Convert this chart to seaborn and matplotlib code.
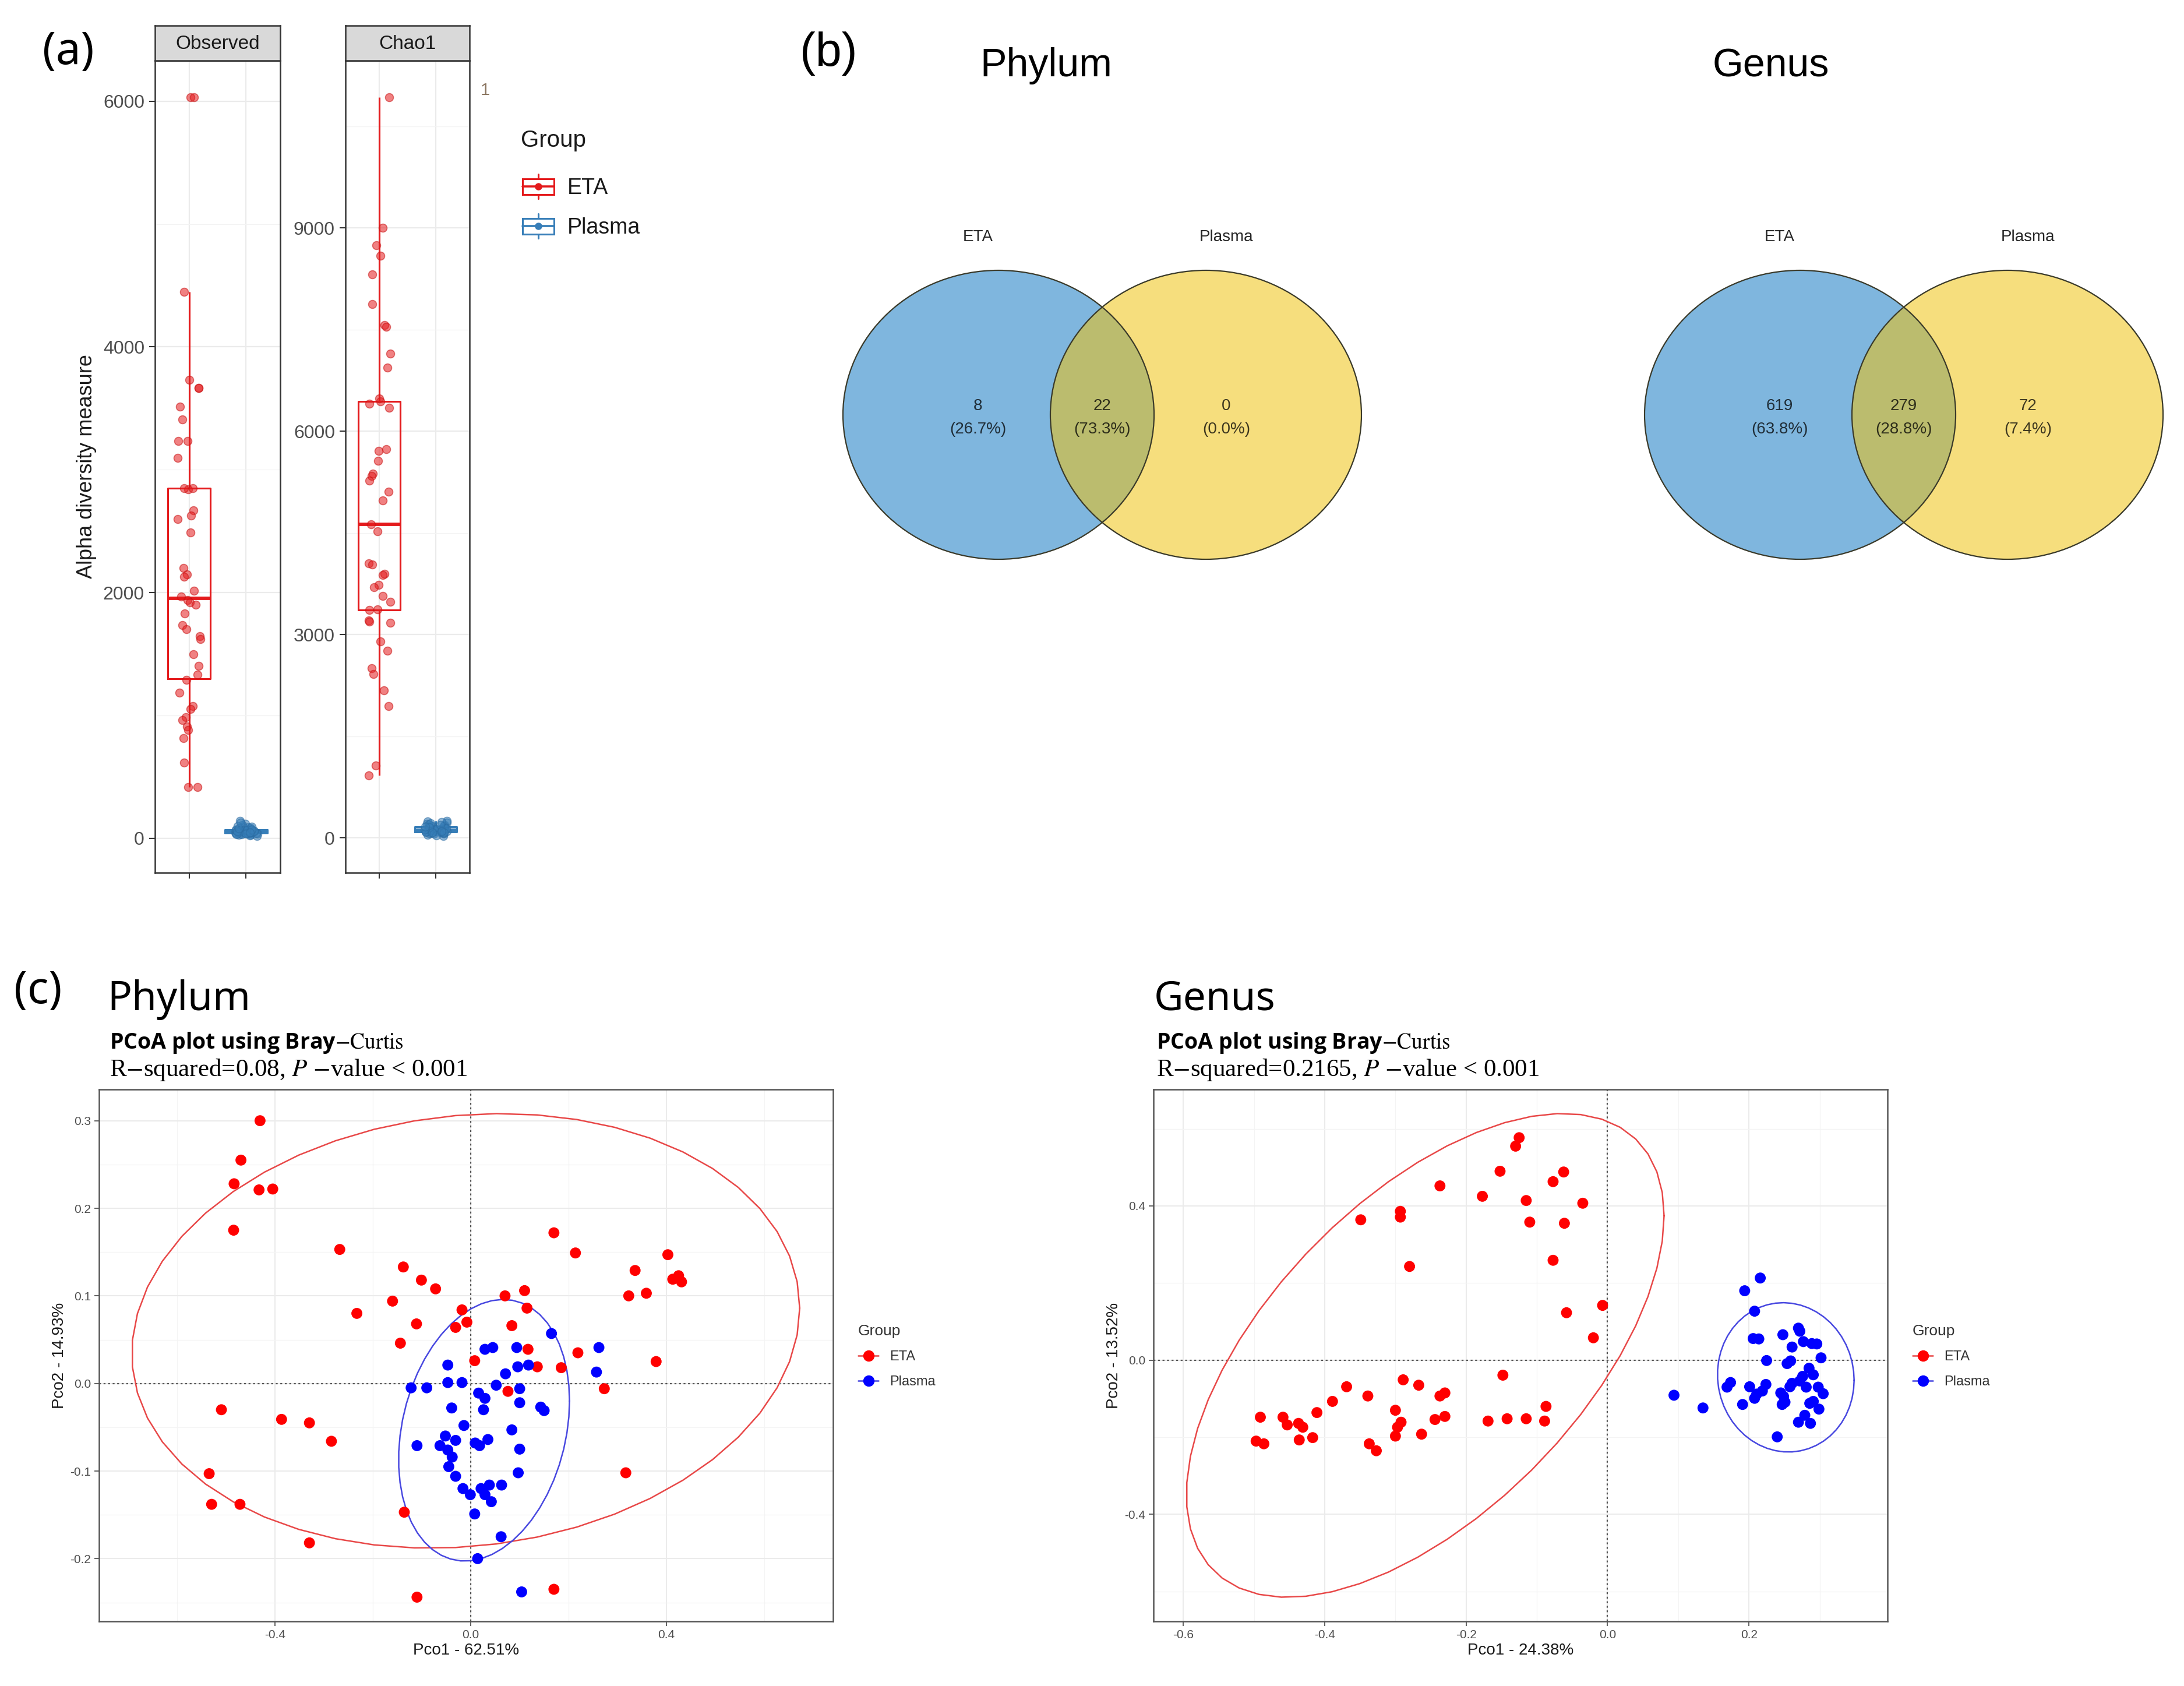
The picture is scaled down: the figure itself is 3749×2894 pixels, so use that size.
import numpy as np
import pandas as pd
import matplotlib
matplotlib.use("Agg")
import matplotlib.pyplot as plt
import seaborn as sns
from matplotlib.patches import Ellipse, Rectangle, Patch
from matplotlib.lines import Line2D
from matplotlib.legend_handler import HandlerBase
from matplotlib.ticker import MultipleLocator, FixedLocator

# ---------------------------------------------------------------- data
groups = ["ETA", "Plasma"]
alpha_metrics = ["Observed", "Chao1"]
alpha_ylabel = "Alpha diversity measure"

observed_eta = [6030, 6030, 4447, 3733, 3663, 3663, 3512, 3410, 3235, 3235, 3097, 2840,
                2848, 2848, 2668, 2627, 2599, 2488, 2198, 2150, 2129, 2014, 1940, 1968,
                1922, 1900, 1829, 1737, 1700, 1645, 1622, 1498, 1401, 1332, 1290, 1184,
                1078, 1050, 986, 960, 908, 880, 816, 618, 415, 415]
observed_plasma = [45, 62, 38, 120, 55, 30, 48, 70, 41, 95, 36, 52, 84, 27, 60, 44, 110,
                   50, 33, 66, 47, 142, 39, 58, 75, 24, 53, 43, 88, 35, 64, 49, 100, 31,
                   56, 42, 78, 20, 51, 68, 46, 128, 40, 59, 92, 37, 54, 72, 46]
chao1_eta = [10925, 9000, 8742, 8592, 8317, 7875, 7567, 7540, 7150, 6942, 6440, 6410,
             6483, 6342, 5733, 5710, 5567, 5375, 5340, 5275, 5108, 4983, 4625, 4525,
             4050, 4030, 3900, 3880, 3733, 3700, 3567, 3483, 3375, 3360, 3208, 3190,
             3170, 2900, 2758, 2500, 2417, 2175, 1942, 1067, 925]
chao1_plasma = [110, 150, 85, 240, 125, 60, 100, 170, 90, 210, 75, 118, 190, 45, 140, 95,
                225, 105, 70, 160, 98, 250, 80, 135, 180, 31, 115, 92, 200, 72, 145, 102,
                215, 65, 130, 88, 175, 40, 112, 155, 97, 235, 83, 138, 195, 78, 120, 165,
                100]

venn_levels = ["Phylum", "Genus"]
venn_phylum_counts = [8, 22, 0]      # ETA only, shared, Plasma only
venn_genus_counts = [619, 279, 72]

pcoa_phylum_eta_x = [-0.431, -0.470, -0.484, -0.433, -0.405, -0.485, -0.268, -0.138, -0.101,
                     -0.072, -0.160, -0.233, -0.111, -0.144, -0.018, -0.031, -0.008, 0.070,
                     0.110, 0.115, 0.084, 0.117, 0.008, 0.136, 0.185, 0.076, 0.170, 0.214,
                     0.403, 0.336, 0.413, 0.425, 0.431, 0.323, 0.359, 0.219, 0.379, 0.273,
                     -0.510, -0.387, -0.330, -0.285, -0.535, -0.530, -0.472, -0.136, -0.330,
                     0.317, -0.110, 0.170]
pcoa_phylum_eta_y = [0.300, 0.255, 0.228, 0.221, 0.222, 0.175, 0.153, 0.133, 0.118, 0.108,
                     0.094, 0.080, 0.068, 0.046, 0.084, 0.064, 0.070, 0.100, 0.106, 0.086,
                     0.066, 0.039, 0.026, 0.019, 0.018, -0.009, 0.172, 0.149, 0.147, 0.129,
                     0.119, 0.123, 0.116, 0.100, 0.103, 0.035, 0.025, -0.006, -0.030, -0.041,
                     -0.045, -0.066, -0.103, -0.138, -0.138, -0.147, -0.182, -0.102, -0.244,
                     -0.235]
pcoa_phylum_plasma_x = [0.165, 0.262, 0.257, 0.029, 0.045, 0.094, -0.047, 0.096, 0.118, 0.071,
                        -0.122, -0.090, -0.047, -0.018, 0.052, 0.100, 0.016, 0.029, 0.100,
                        -0.039, 0.026, 0.143, 0.150, -0.014, 0.084, -0.052, -0.031, 0.035,
                        0.009, 0.018, -0.110, -0.063, -0.047, -0.038, 0.100, -0.045, 0.097,
                        -0.031, -0.016, 0.021, -0.001, 0.029, 0.038, 0.063, 0.042, 0.008,
                        0.062, 0.014, 0.104]
pcoa_phylum_plasma_y = [0.057, 0.041, 0.013, 0.039, 0.041, 0.041, 0.021, 0.019, 0.021, 0.011,
                        -0.005, -0.005, 0.001, 0.001, -0.002, -0.006, -0.011, -0.017, -0.022,
                        -0.028, -0.030, -0.027, -0.031, -0.048, -0.053, -0.060, -0.065,
                        -0.064, -0.068, -0.071, -0.071, -0.071, -0.076, -0.084, -0.075,
                        -0.095, -0.102, -0.106, -0.120, -0.120, -0.127, -0.127, -0.116,
                        -0.116, -0.135, -0.149, -0.175, -0.200, -0.238]

pcoa_genus_eta_x = [-0.125, -0.130, -0.152, -0.062, -0.077, -0.237, -0.177, -0.115, -0.035,
                    -0.293, -0.293, -0.349, -0.110, -0.061, -0.077, -0.280, -0.007, -0.058,
                    -0.020, -0.148, -0.289, -0.267, -0.369, -0.230, -0.237, -0.339, -0.389,
                    -0.087, -0.411, -0.300, -0.491, -0.459, -0.230, -0.244, -0.142, -0.115,
                    -0.169, -0.089, -0.453, -0.437, -0.431, -0.292, -0.297, -0.263, -0.300,
                    -0.417, -0.436, -0.497, -0.486, -0.337, -0.327]
pcoa_genus_eta_y = [0.577, 0.555, 0.490, 0.488, 0.463, 0.452, 0.425, 0.414, 0.407, 0.386,
                    0.371, 0.364, 0.358, 0.355, 0.259, 0.243, 0.142, 0.123, 0.058, -0.039,
                    -0.051, -0.065, -0.069, -0.085, -0.093, -0.093, -0.107, -0.120, -0.136,
                    -0.130, -0.148, -0.148, -0.146, -0.154, -0.152, -0.152, -0.158, -0.158,
                    -0.168, -0.164, -0.174, -0.161, -0.174, -0.192, -0.197, -0.201, -0.207,
                    -0.210, -0.217, -0.217, -0.235]
pcoa_genus_plasma_x = [0.216, 0.194, 0.208, 0.206, 0.214, 0.248, 0.270, 0.272, 0.261, 0.277,
                       0.289, 0.296, 0.225, 0.254, 0.259, 0.302, 0.285, 0.291, 0.276, 0.272,
                       0.281, 0.261, 0.258, 0.174, 0.169, 0.201, 0.224, 0.219, 0.211, 0.208,
                       0.245, 0.249, 0.247, 0.251, 0.298, 0.305, 0.291, 0.286, 0.299, 0.191,
                       0.279, 0.270, 0.287, 0.240, 0.094, 0.135]
pcoa_genus_plasma_y = [0.213, 0.180, 0.127, 0.056, 0.055, 0.066, 0.083, 0.075, 0.034, 0.048,
                       0.043, 0.042, -0.001, -0.009, -0.002, 0.006, -0.021, -0.038, -0.042,
                       -0.054, -0.070, -0.060, -0.069, -0.058, -0.070, -0.069, -0.063,
                       -0.080, -0.088, -0.099, -0.085, -0.094, -0.115, -0.109, -0.070,
                       -0.087, -0.107, -0.112, -0.127, -0.115, -0.143, -0.161, -0.164,
                       -0.199, -0.091, -0.124]

pcoa_phylum_labels = ["Pco1 - 62.51%", "Pco2 - 14.93%"]
pcoa_genus_labels = ["Pco1 - 24.38%", "Pco2 - 13.52%"]
pcoa_phylum_r2 = "0.08"
pcoa_genus_r2 = "0.2165"

# ---------------------------------------------------------------- style
W, H, DPI = 3749, 2894, 100
sns.set_style("white")
plt.rcParams["font.family"] = ["Liberation Sans", "DejaVu Sans"]
plt.rcParams["axes.unicode_minus"] = False
plt.rcParams["mathtext.fontset"] = "stix"

fig = plt.figure(figsize=(W / DPI, H / DPI), dpi=DPI, facecolor="white")


def add_ax(left, top, right, bottom, **kw):
    return fig.add_axes([left / W, 1 - bottom / H, (right - left) / W, (bottom - top) / H], **kw)


# overlay axes in pixel coordinates for free text and venn
ov = fig.add_axes([0, 0, 1, 1])
ov.set_xlim(0, W)
ov.set_ylim(H, 0)
ov.axis("off")
ov.patch.set_visible(False)

# ---------------------------------------------------------------- panel (a)
pal_a = {"ETA": "#E41A1C", "Plasma": "#377EB8"}
edge_a = {"ETA": "#C81010", "Plasma": "#2A6AA0"}
alpha_df = pd.DataFrame({
    "Metric": (["Observed"] * (len(observed_eta) + len(observed_plasma))
               + ["Chao1"] * (len(chao1_eta) + len(chao1_plasma))),
    "Group": (["ETA"] * len(observed_eta) + ["Plasma"] * len(observed_plasma)
              + ["ETA"] * len(chao1_eta) + ["Plasma"] * len(chao1_plasma)),
    "Value": observed_eta + observed_plasma + chao1_eta + chao1_plasma,
})
panel_rects = {"Observed": (266, 104, 481, 1498), "Chao1": (593, 104, 806, 1498)}
major_step = {"Observed": 2000, "Chao1": 3000}
np.random.seed(3)
for m in alpha_metrics:
    l, t, r, b = panel_rects[m]
    ax = add_ax(l, t, r, b)
    d = alpha_df[alpha_df.Metric == m]
    sns.boxplot(data=d, x="Group", y="Value", hue="Group", order=groups, hue_order=groups,
                palette=pal_a, fill=False, width=0.75, linewidth=2.2, showfliers=False,
                showcaps=False, legend=False, ax=ax, medianprops=dict(linewidth=4.2))
    for g in groups:
        sns.stripplot(data=d[d.Group == g], x="Group", y="Value", order=groups,
                      color=pal_a[g], jitter=0.21, size=10, alpha=0.55, linewidth=1.2,
                      edgecolor=edge_a[g], ax=ax, zorder=3)
    vmin, vmax = d.Value.min(), d.Value.max()
    pad = 0.05 * (vmax - vmin)
    ax.set_ylim(vmin - pad, vmax + pad)
    ax.set_xlim(-0.6, 1.6)
    ax.yaxis.set_major_locator(MultipleLocator(major_step[m]))
    ax.yaxis.set_minor_locator(MultipleLocator(major_step[m] / 2))
    ax.set_axisbelow(True)
    ax.grid(which="major", color="#EBEBEB", lw=1.6)
    ax.grid(which="minor", axis="y", color="#F3F3F3", lw=0.9)
    for s in ax.spines.values():
        s.set_color("#333333")
        s.set_linewidth(1.8)
    ax.tick_params(axis="both", which="major", direction="out", length=7, width=1.5,
                   color="#333333", labelsize=23, labelcolor="#4D4D4D", pad=6,
                   left=True, bottom=True)
    ax.tick_params(which="minor", length=0)
    ax.set_xticklabels([])
    ax.set_xlabel("")
    if m == "Observed":
        ax.set_ylabel(alpha_ylabel, fontsize=26, color="#1A1A1A", labelpad=8)
    else:
        ax.set_ylabel("")
    # facet strip
    sax = add_ax(l, 44, r, t)
    sax.set_facecolor("#D9D9D9")
    sax.set_xticks([])
    sax.set_yticks([])
    for s in sax.spines.values():
        s.set_color("#333333")
        s.set_linewidth(1.8)
    sax.text(0.5, 0.47, m, ha="center", va="center", fontsize=24, color="#1A1A1A",
             transform=sax.transAxes)

ov.text(833, 155, "1", ha="center", va="center", fontsize=21, color="#8a7560")


class BoxKeyHandler(HandlerBase):
    def create_artists(self, legend, orig_handle, xdescent, ydescent, width, height,
                       fontsize, trans):
        c = orig_handle.get_edgecolor()
        x0, y0 = -xdescent, -ydescent
        cx, cy = x0 + width / 2, y0 + height / 2
        whisk = Line2D([cx, cx], [y0 - 0.05 * height, y0 + 1.05 * height], color=c, lw=2.2,
                       transform=trans)
        box = Rectangle((x0, y0 + 0.15 * height), width, 0.7 * height, facecolor="white",
                        edgecolor=c, lw=2.2, transform=trans)
        med = Line2D([x0, x0 + width], [cy, cy], color=c, lw=2.6, transform=trans)
        dot = Line2D([cx], [cy], marker="o", color=c, markersize=8, linestyle="none",
                     transform=trans)
        return [whisk, box, med, dot]


ov.text(894, 241, "Group", ha="left", va="center", fontsize=29, color="#1A1A1A")
box_handles = [Patch(edgecolor=pal_a[g], facecolor="white") for g in groups]
leg_a = fig.legend(box_handles, groups, handler_map={h: BoxKeyHandler() for h in box_handles},
                   loc="upper left", bbox_to_anchor=(897 / W, 1 - 301 / H),
                   bbox_transform=fig.transFigure, frameon=False,
                   fontsize=27, handlelength=1.45, handleheight=1.2,
                   handletextpad=0.6, labelspacing=0.75, borderpad=0, borderaxespad=0,
                   labelcolor="#1A1A1A")

# ---------------------------------------------------------------- panel (b) venn
venn_blue, venn_yellow, venn_mix = "#7FB6DE", "#F6DE7D", "#BBBC6E"
venn_geom = {"Phylum": (1714, 2070, 1796), "Genus": (3090, 3446, 3040)}
cy, rx, ry = 712, 267, 248
for lvl, counts in zip(venn_levels, [venn_phylum_counts, venn_genus_counts]):
    c1, c2, tx = venn_geom[lvl]
    e1 = Ellipse((c1, cy), 2 * rx, 2 * ry, facecolor=venn_blue, edgecolor="none", zorder=1)
    e2 = Ellipse((c2, cy), 2 * rx, 2 * ry, facecolor=venn_yellow, edgecolor="none", zorder=1)
    ov.add_patch(e1)
    ov.add_patch(e2)
    e3 = Ellipse((c2, cy), 2 * rx, 2 * ry, facecolor=venn_mix, edgecolor="none", zorder=2)
    ov.add_patch(e3)
    e3.set_clip_path(e1)
    for c in (c1, c2):
        ov.add_patch(Ellipse((c, cy), 2 * rx, 2 * ry, facecolor="none", edgecolor="#3a3a2a",
                             lw=1.6, zorder=3))
    total = sum(counts)
    xs = [c1 - 35, (c1 + c2) / 2, c2 + 35]
    for x, cnt in zip(xs, counts):
        ov.text(x, 697, f"{cnt}", ha="center", va="center", fontsize=20, color="black",
                alpha=0.75, zorder=4)
        ov.text(x, 737, f"({100 * cnt / total:.1f}%)", ha="center", va="center", fontsize=20,
                color="black", alpha=0.75, zorder=4)
    ov.text(c1 - 35, 407, groups[0], ha="center", va="center", fontsize=20, color="#262626")
    ov.text(c2 + 35, 407, groups[1], ha="center", va="center", fontsize=20, color="#262626")
    ov.text(tx, 113, lvl, ha="center", va="center", fontsize=49, color="black")

# ---------------------------------------------------------------- panel (c) PCoA
pal_c = {"ETA": "#FF0000", "Plasma": "#0000FF"}
ell_c = {"ETA": "#E84848", "Plasma": "#4848E0"}


def cov_trob(X, nu=5, maxit=25, tol=0.01):
    n, p = X.shape
    wt = np.ones(n)
    loc = X.mean(axis=0)
    w = np.sqrt(wt)
    for _ in range(maxit):
        w0 = w
        Xc = X - loc
        A = np.sqrt(w / w.sum())[:, None] * Xc
        _, dvals, Vt = np.linalg.svd(A, full_matrices=False)
        wX = Xc @ Vt.T @ np.diag(1 / dvals)
        Q = (wX ** 2).sum(axis=1)
        w = (wt * (nu + p)) / (nu + Q)
        loc = (w[:, None] * X).sum(axis=0) / w.sum()
        if np.all(np.abs(w - w0) < tol):
            break
    sw = np.sqrt(w)[:, None] * Xc
    return loc, sw.T @ sw / wt.sum()


def stat_ellipse(x, y, level=0.95, segments=51):
    X = np.column_stack([x, y])
    center, shape = cov_trob(X)
    dfd = len(x) - 1
    qf = dfd / 2 * ((1 - level) ** (-2 / dfd) - 1)
    radius = np.sqrt(2 * qf)
    ang = np.linspace(0, 2 * np.pi, segments + 1)
    circ = np.column_stack([np.cos(ang), np.sin(ang)])
    U = np.linalg.cholesky(shape).T
    return center + radius * circ @ U


def pcoa_panel(rect, ex, ey, px, py, labels, xmaj, xmin, ymaj, ymin):
    ax = add_ax(*rect)
    df = pd.DataFrame({"x": ex + px, "y": ey + py,
                       "Group": ["ETA"] * len(ex) + ["Plasma"] * len(px)})
    sns.scatterplot(data=df, x="x", y="y", hue="Group", hue_order=groups, palette=pal_c,
                    s=185, linewidth=0, legend=False, ax=ax, zorder=3)
    for g in groups:
        sub = df[df.Group == g]
        ell = stat_ellipse(sub.x.values, sub.y.values)
        ax.plot(ell[:, 0], ell[:, 1], color=ell_c[g], lw=1.8, zorder=2)
    ax.margins(0.05)
    ax.autoscale_view()
    ax.axhline(0, ls=(0, (1.5, 2)), color="#555555", lw=1.6, zorder=1)
    ax.axvline(0, ls=(0, (1.5, 2)), color="#555555", lw=1.6, zorder=1)
    ax.xaxis.set_major_locator(FixedLocator(xmaj))
    ax.xaxis.set_minor_locator(FixedLocator(xmin))
    ax.yaxis.set_major_locator(FixedLocator(ymaj))
    ax.yaxis.set_minor_locator(FixedLocator(ymin))
    ax.xaxis.set_major_formatter(matplotlib.ticker.FormatStrFormatter("%.1f"))
    ax.yaxis.set_major_formatter(matplotlib.ticker.FormatStrFormatter("%.1f"))
    ax.set_axisbelow(True)
    ax.grid(which="major", color="#EBEBEB", lw=1.5)
    ax.grid(which="minor", color="#F4F4F4", lw=0.9)
    for s in ax.spines.values():
        s.set_color("#555555")
        s.set_linewidth(1.8)
    ax.tick_params(which="major", direction="out", length=6, width=1.3, color="#555555",
                   labelsize=15, labelcolor="#4D4D4D", pad=4, left=True, bottom=True)
    ax.tick_params(which="minor", length=0)
    ax.set_xlabel(labels[0], fontsize=20, color="#1A1A1A", labelpad=3)
    ax.set_ylabel(labels[1], fontsize=20, color="#1A1A1A", labelpad=4)
    handles = [(Line2D([], [], color=ell_c[g], lw=1.8),
                Line2D([], [], color=pal_c[g], marker="o", ls="none", markersize=13))
               for g in groups]
    leg = fig.legend(handles, groups, loc="upper left",
                     bbox_to_anchor=((rect[2] + 43) / W, 1 - 2273 / H),
                     bbox_transform=fig.transFigure, frameon=False, title="Group",
                     title_fontsize=19, fontsize=17, handlelength=1.5, handletextpad=0.8,
                     labelspacing=0.9, borderpad=0, borderaxespad=0, alignment="left",
                     labelcolor="#333333")
    leg.get_title().set_color("#333333")
    return ax


pcoa_panel((170, 1870, 1430, 2783), pcoa_phylum_eta_x, pcoa_phylum_eta_y,
           pcoa_phylum_plasma_x, pcoa_phylum_plasma_y, pcoa_phylum_labels,
           [-0.4, 0.0, 0.4], [-0.6, -0.2, 0.2, 0.6],
           [-0.2, -0.1, 0.0, 0.1, 0.2, 0.3], [-0.25, -0.15, -0.05, 0.05, 0.15, 0.25])
pcoa_panel((1980, 1870, 3240, 2783), pcoa_genus_eta_x, pcoa_genus_eta_y,
           pcoa_genus_plasma_x, pcoa_genus_plasma_y, pcoa_genus_labels,
           [-0.6, -0.4, -0.2, 0.0, 0.2], [-0.5, -0.3, -0.1, 0.1, 0.3],
           [-0.4, 0.0, 0.4], [-0.6, -0.2, 0.2, 0.6])

for x0, lvl, r2 in [(184, "Phylum", pcoa_phylum_r2), (1981, "Genus", pcoa_genus_r2)]:
    ov.text(x0, 1734, lvl, ha="left", va="baseline", fontsize=50, family="Noto Sans",
            color="black")
    ov.text(x0 + 4, 1800, r"PCoA plot using Bray$\mathrm{-Curtis}$", ha="left",
            va="baseline", fontsize=27, fontweight="bold", family=["Open Sans", "DejaVu Sans"],
            color="black")
    ov.text(x0 + 4, 1847, r"R$-$squared=" + r2 + r", $P$ $-$value < 0.001", ha="left",
            va="baseline", fontsize=31, family="Liberation Serif", color="black")

# ---------------------------------------------------------------- panel letters
ov.text(73, 90, "(a)", ha="left", va="center", fontsize=55, family="Noto Sans", color="black")
ov.text(1373, 92, "(b)", ha="left", va="center", fontsize=58, color="black")
ov.text(24, 1702, "(c)", ha="left", va="center", fontsize=55, family="Noto Sans",
        color="black")

fig.savefig("out.png", dpi=DPI, facecolor="white")
